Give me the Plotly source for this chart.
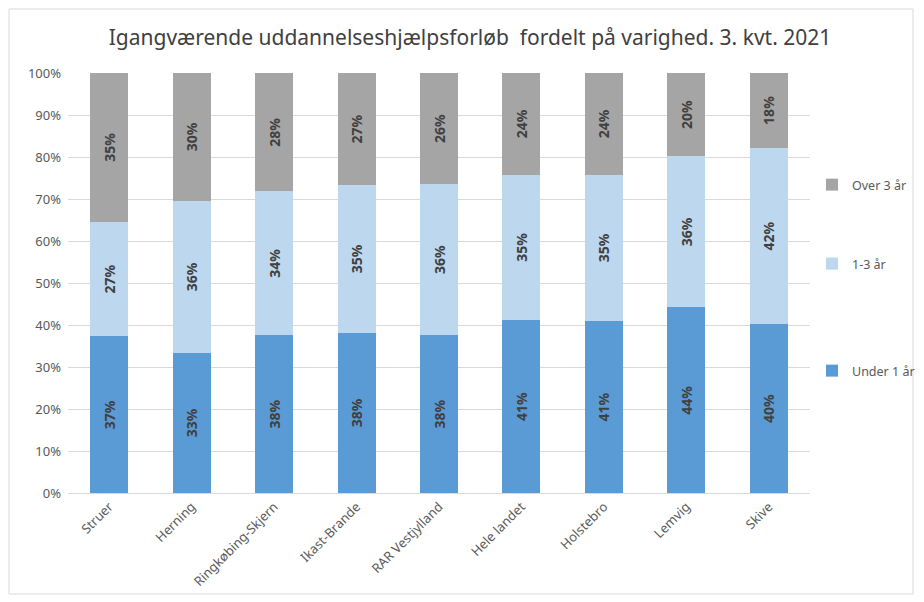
import plotly.graph_objects as go

categories = ["Struer", "Herning", "Ringkøbing-Skjern", "Ikast-Brande", "RAR Vestjylland",
              "Hele landet", "Holstebro", "Lemvig", "Skive"]
under_1 = [37.3, 33.4, 37.6, 38.2, 37.6, 41.2, 41.0, 44.2, 40.2]
aar_1_3 = [27.3, 36.2, 34.2, 35.1, 36.0, 34.6, 34.8, 36.0, 42.0]
over_3 = [35.4, 30.4, 28.2, 26.7, 26.4, 24.2, 24.2, 19.8, 17.8]
series_names = ["Under 1 år", "1-3 år", "Over 3 år"]
colors = ["#5B9BD5", "#BDD7EE", "#A5A5A5"]
y_ticks = [0, 10, 20, 30, 40, 50, 60, 70, 80, 90, 100]
y_tick_labels = [f"{v}%" for v in y_ticks]

FONT = "Noto Sans"
OFF = 8  # page body margin
W, H = 924 - OFF, 602 - OFF
L, R, T, B = 68 - OFF, 810 - OFF, 73 - OFF, 493 - OFF

def px_x(px):
    return (px - OFF - L) / (R - L)

def px_y(py):
    return (B - (py - OFF)) / (B - T)

fig = go.Figure()
legend_ids = ["legend", "legend2", "legend3"]
legend_y = [371, 264, 185]
for vals, name, col, lg in zip([under_1, aar_1_3, over_3], series_names, colors, legend_ids):
    fig.add_trace(go.Bar(
        x=categories, y=vals, name=name, marker=dict(color=col, line=dict(width=0)),
        text=vals, texttemplate="%{y:.0f}%", textposition="inside",
        insidetextanchor="middle", textangle=-90,
        textfont=dict(family=FONT, size=14, color="#404040", weight="bold"),
        legend=lg, hoverinfo="skip",
    ))

legend_common = dict(font=dict(family=FONT, size=12.5, color="#595959"),
                     bgcolor="rgba(0,0,0,0)", xanchor="left", yanchor="middle",
                     itemwidth=30)
lay = {}
for lg, py in zip(legend_ids, legend_y):
    lay[lg] = dict(legend_common, x=px_x(812), y=px_y(py))

fig.update_layout(
    width=W, height=H,
    margin=dict(l=L, r=W - R, t=T, b=H - B, autoexpand=False),
    paper_bgcolor="white", plot_bgcolor="white",
    barmode="stack", bargap=0.54,
    title=dict(text="Igangværende uddannelseshjælpsforløb  fordelt på varighed. 3. kvt. 2021",
               x=((107 + 833) / 2 - OFF) / W, xanchor="center",
               y=1 - (38 - OFF) / H, yanchor="middle",
               font=dict(family=FONT, size=21, color="#404040")),
    xaxis=dict(tickangle=-45, tickfont=dict(family=FONT, size=13, color="#595959"),
               showline=True, linecolor="#D9D9D9", linewidth=1, showgrid=False,
               ticks="", fixedrange=True),
    yaxis=dict(range=[0, 100], tickvals=y_ticks, ticktext=y_tick_labels,
               tickfont=dict(family=FONT, size=13, color="#595959"),
               showgrid=True, gridcolor="#D9D9D9", gridwidth=1, zeroline=False,
               showline=False, ticks="", ticklabelstandoff=6),
    showlegend=True,
    **lay,
)

fig.add_shape(type="rect", xref="paper", yref="paper",
              x0=px_x(9), x1=px_x(913), y0=px_y(594), y1=px_y(9),
              line=dict(color="#D9D9D9", width=1), fillcolor="rgba(0,0,0,0)", layer="below")

fig.write_html("out.html")
